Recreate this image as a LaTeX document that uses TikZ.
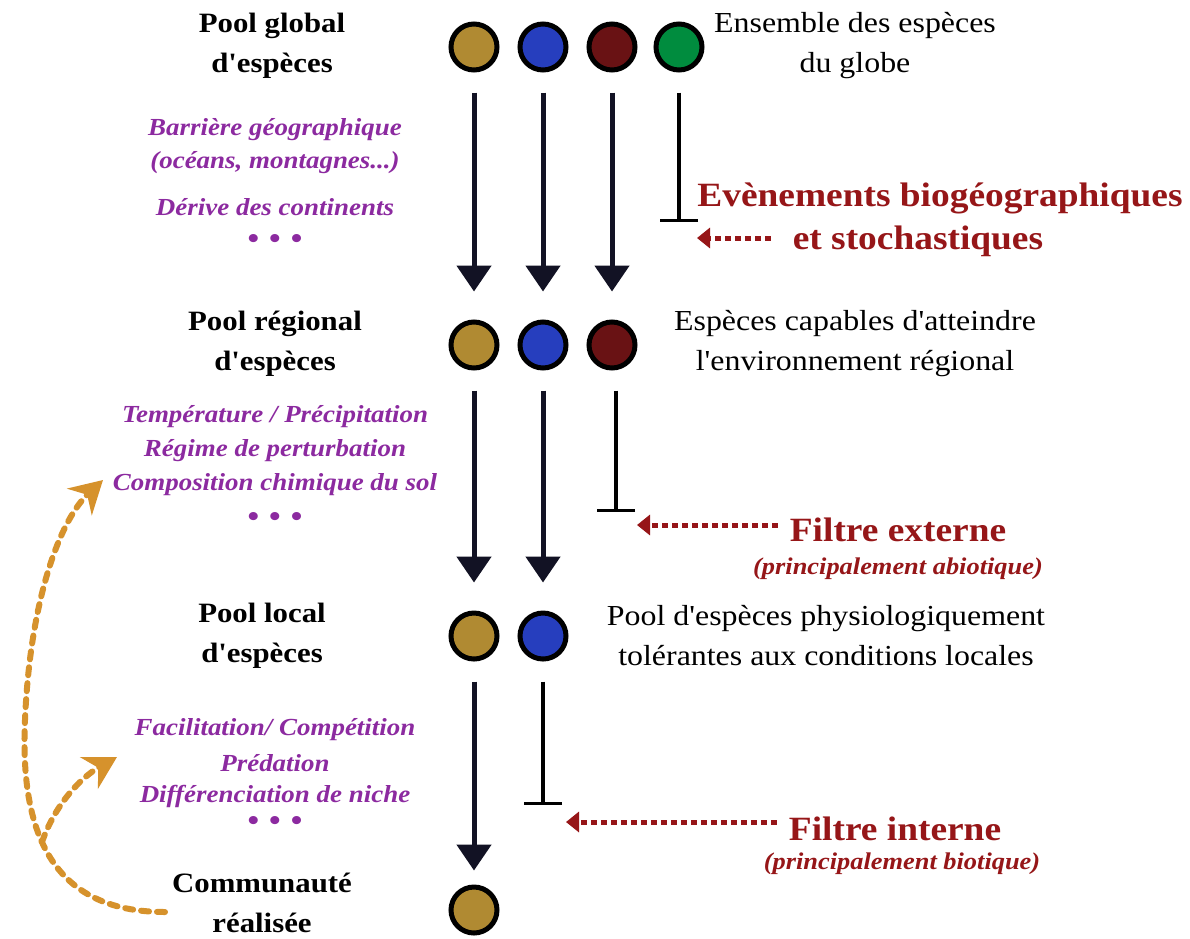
\documentclass[tikz,border=0pt]{standalone}
\usepackage{fontspec}
\setmainfont{Liberation Serif}[Ligatures=TeXOff, FakeStretch=1.1]
\usetikzlibrary{arrows.meta}
\definecolor{goldc}{RGB}{176,138,50}
\definecolor{bluec}{RGB}{38,62,190}
\definecolor{darkredc}{RGB}{105,18,20}
\definecolor{greenc}{RGB}{0,140,62}
\definecolor{purpc}{RGB}{140,42,160}
\definecolor{redc}{RGB}{150,22,24}
\definecolor{orangec}{RGB}{214,146,44}
\definecolor{arrowc}{RGB}{18,18,36}
\begin{document}
\begin{tikzpicture}[x=1pt,y=-1pt,
  sp/.style={circle, draw=black, line width=5pt, minimum size=46pt, inner sep=0pt},
  blk/.style={font=\fontsize{28}{40}\selectfont\bfseries, align=center, inner sep=0pt},
  desc/.style={font=\fontsize{29}{40}\selectfont, align=center, inner sep=0pt},
  purp/.style={font=\fontsize{24.5}{30}\selectfont\bfseries\itshape, text=purpc, inner sep=0pt},
  dots/.style={font=\fontsize{30}{30}\selectfont\bfseries, text=purpc, inner sep=0pt},
  redt/.style={font=\fontsize{34}{40}\selectfont\bfseries, text=redc, inner sep=0pt},
  redi/.style={font=\fontsize{24}{30}\selectfont\bfseries\itshape, text=redc, inner sep=0pt},
  flow/.style={draw=arrowc, line width=5pt, shorten <=20pt, -{Triangle[width=34pt,length=26pt]}},
  inhib/.style={draw=black, line width=4pt, shorten <=20pt, -{Bar[width=38pt,line width=3pt]}},
  filt/.style={draw=redc, line width=5pt, dash pattern=on 6pt off 4pt, -{Triangle[width=20pt,length=13pt]}},
  fb/.style={draw=orangec, line width=6pt, dash pattern=on 8pt off 8pt, line cap=round, -{Stealth[width=36pt,length=32pt,line cap=butt]}}
]
\useasboundingbox[fill=white] (0,0) rectangle (1190,938);

% species circles
\node[sp, fill=goldc] (c11) at (474,47) {};
\node[sp, fill=bluec] (c12) at (543,47) {};
\node[sp, fill=darkredc] (c13) at (612,47) {};
\node[sp, fill=greenc] (c14) at (679,47) {};
\node[sp, fill=goldc] (c21) at (474,345) {};
\node[sp, fill=bluec] (c22) at (543,345) {};
\node[sp, fill=darkredc] (c23) at (612,345) {};
\node[sp, fill=goldc] (c31) at (474,636) {};
\node[sp, fill=bluec] (c32) at (543,636) {};
\node[sp, fill=goldc] (c41) at (474,910) {};

% level labels
\node[blk] (L1) at (272,46) {Pool global\\d'espèces};
\node[blk] (L2) at (275,344) {Pool régional\\d'espèces};
\node[blk] (L3) at (262,636) {Pool local\\d'espèces};
\node[blk] (L4) at (262,903) {Communauté\\réalisée};

% descriptions
\node[desc] (D1) at (855,46) {Ensemble des espèces\\du globe};
\node[desc] (D2) at (855,344) {Espèces capables d'atteindre\\l'environnement régional};
\node[desc] (D3) at (826,636) {Pool d'espèces physiologiquement\\tolérantes aux conditions locales};

% purple factors
\node[purp] (P1a) at (275,130) {Barrière géographique};
\node[purp] (P1b) at (275,163) {(océans, montagnes...)};
\node[purp] (P1c) at (275,207) {Dérive des continents};
\node[dots] (P1d) at (275,241) {•\hspace{10pt}•\hspace{10pt}•};
\node[purp] (P2a) at (275,417) {Température / Précipitation};
\node[purp] (P2b) at (275,451) {Régime de perturbation};
\node[purp] (P2c) at (275,485) {Composition chimique du sol};
\node[dots] (P2d) at (275,519) {•\hspace{10pt}•\hspace{10pt}•};
\node[purp] (P3a) at (275,730) {Facilitation/ Compétition};
\node[purp] (P3b) at (275,763) {Prédation};
\node[purp] (P3c) at (275,796) {Différenciation de niche};
\node[dots] (P3d) at (275,823) {•\hspace{10pt}•\hspace{10pt}•};

% red filter labels
\node[redt] (E1) at (940,198) {Evènements biogéographiques};
\node[redt] (E2) at (918,241) {et stochastiques};
\node[redt] (F1) at (898,530) {Filtre externe};
\node[redi] (F2) at (898,569) {(principalement abiotique)};
\node[redt] (I1) at (895,829) {Filtre interne};
\node[redi] (I2) at (902,864) {(principalement biotique)};

% flow arrows
\draw[flow, shorten >=28pt] (c11) -- (c21);
\draw[flow, shorten >=28pt] (c12) -- (c22);
\draw[flow, shorten >=28pt] (c13) -- (c23);
\draw[flow, shorten >=28pt] (c21) -- (c31);
\draw[flow, shorten >=28pt] (c22) -- (c32);
\draw[flow, shorten >=14pt] (c31) -- (c41);

% inhibited lineages
\coordinate (b1) at (679,222);
\coordinate (b2) at (616,512);
\coordinate (b3) at (543,805);
\draw[inhib] (c14) -- (b1);
\draw[inhib] (c23.south -| b2) -- (b2);
\draw[inhib] (c32) -- (b3);

% filter arrows
\coordinate (t1) at (697,238);
\coordinate (t2) at (637,525);
\coordinate (t3) at (566,822);
\draw[filt] (E2.west |- t1) ++(-22,0) -- (t1);
\draw[filt] (F1.west |- t2) ++(-12,0) -- (t2);
\draw[filt] (I1.west |- t3) ++(-12,0) -- (t3);

% feedback arrows
\coordinate (o0) at (165,912);
\coordinate (o1) at (103,480);
\coordinate (o2) at (117,757);
\coordinate (ob) at (42,842);
\draw[fb] (o0) .. controls (50,912) and (20,830) .. (25,720) .. controls (30,600) and (60,520) .. (o1);
\draw[fb] (ob) .. controls (55,805) and (80,778) .. (o2);
\end{tikzpicture}
\end{document}
